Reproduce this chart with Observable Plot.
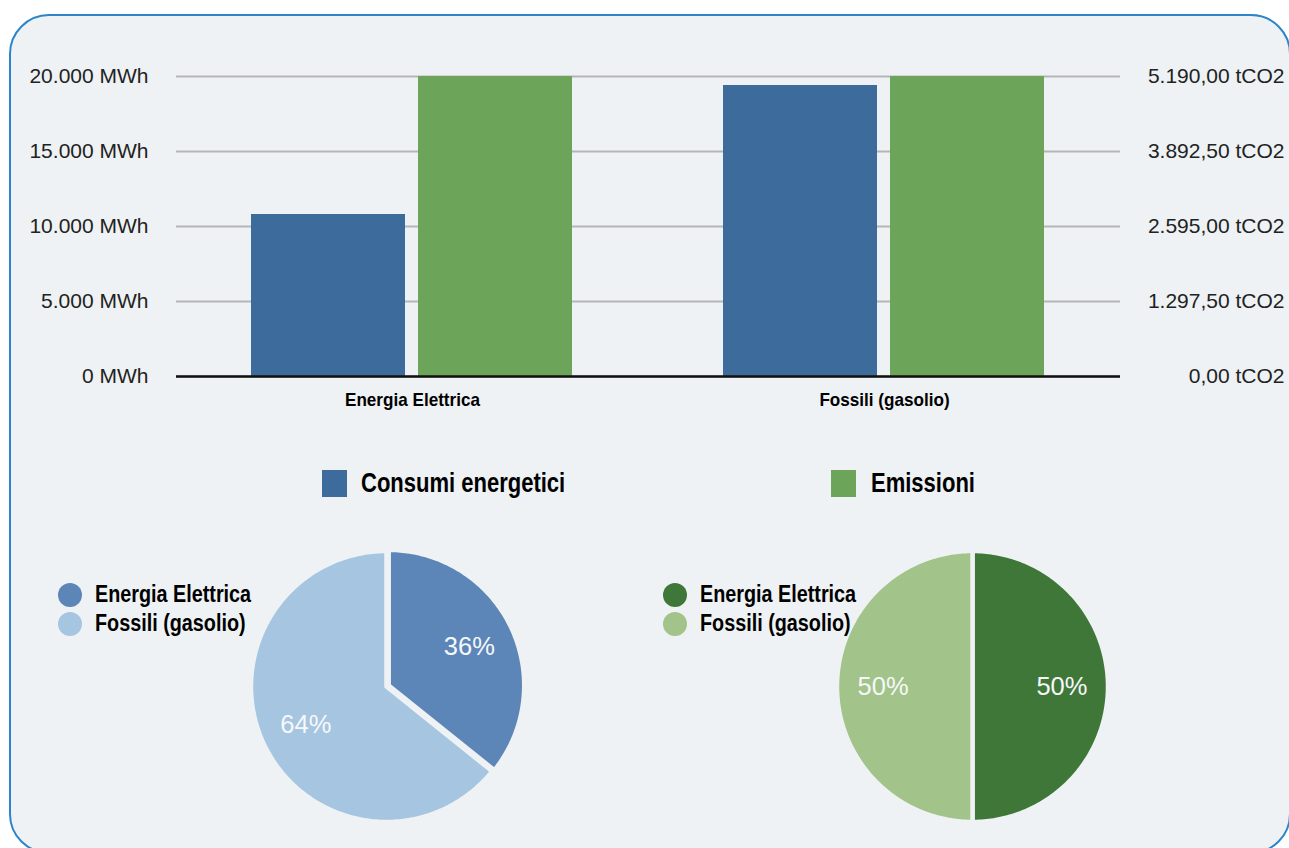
<!DOCTYPE html>
<html>
<head>
<meta charset="utf-8">
<script src="https://cdn.jsdelivr.net/npm/d3@7"></script>
<script src="https://cdn.jsdelivr.net/npm/@observablehq/plot@0.6"></script>
<style>
  html, body { margin: 0; padding: 0; background: #ffffff; width: 1289px; height: 848px; overflow: hidden; }
  #frame { position: absolute; left: 9px; top: 14px; width: 1282px; height: 840px; box-sizing: border-box;
           border: 2px solid #2a86c9; border-radius: 40px; background: #eef2f4; }
  .abs { position: absolute; }
  .bold { font-family: 'Liberation Sans', Arial, sans-serif; font-weight: bold; color: #000; }
  .row { display: flex; align-items: center; white-space: nowrap; }
  .cond { display: inline-block; transform-origin: left center; white-space: nowrap; }
</style>
</head>
<body>
<div id="frame"></div>
<div id="bars" class="abs" style="left:0;top:0;"></div>
<div id="barLegend" class="abs bold" style="left:0;top:470px;"></div>
<div id="pie1" class="abs" style="left:241px;top:541px;"></div>
<div id="pie2" class="abs" style="left:827px;top:541px;"></div>
<div id="leg1" class="abs bold" style="left:58px;top:580px;"></div>
<div id="leg2" class="abs bold" style="left:663px;top:580px;"></div>
<script>
// ---- data ----
const categories = ["Energia Elettrica", "Fossili (gasolio)"];
const series = ["Consumi energetici", "Emissioni"];
const consumiMWh = [10800, 19400];
const emissioniT = [5190, 5190];
const mwhTicks = [0, 5000, 10000, 15000, 20000];
const mwhMax = 20000;
const tco2Max = 5190;
const barColors = ["#3d6b9c", "#6ca559"];
const pieBlue = ["#5d86b8", "#a6c5e1"];
const pieGreen = ["#3f7739", "#a2c389"];

const bg = "#eef2f4";
const sans = "'Liberation Sans', Arial, sans-serif";
const it = d3.formatLocale({decimal: ",", thousands: ".", grouping: [3], currency: ["€", ""]});
const fmtMWh = d => it.format(",.0f")(d) + " MWh";
const fmtT = d => it.format(",.2f")(d * tco2Max / mwhMax) + " tCO2";

// ---- bar chart ----
const table = [];
categories.forEach((c, i) => {
  table.push({category: c, series: series[0], value: consumiMWh[i]});
  table.push({category: c, series: series[1], value: emissioniT[i] * mwhMax / tco2Max});
});

const bars = Plot.plot({
  width: 1289, height: 420,
  marginLeft: 175, marginRight: 169, marginTop: 76, marginBottom: 44,
  style: {background: "transparent", fontFamily: sans, fontSize: "21px", color: "#222"},
  fx: {domain: categories, padding: 0, label: null},
  x: {domain: series, paddingInner: 0.077, paddingOuter: 0.446, axis: null},
  y: {domain: [0, mwhMax], axis: null},
  color: {domain: series, range: barColors},
  marks: [
    Plot.gridY(mwhTicks, {stroke: "#b5b5b5", strokeOpacity: 1, strokeWidth: 2}),
    Plot.barY(table, {fx: "category", x: "series", y: "value", fill: "series"}),
    Plot.ruleY([0], {stroke: "#111", strokeWidth: 2.5}),
    Plot.axisY(mwhTicks, {anchor: "left", tickSize: 0, tickPadding: 28, tickFormat: fmtMWh, label: null}),
    Plot.axisY(mwhTicks, {anchor: "right", tickSize: 0, tickPadding: 164, textAnchor: "end", tickFormat: fmtT, label: null}),
    Plot.axisFx({anchor: "bottom", tickSize: 0, tickPadding: 16, fontWeight: "bold", fontFamily: sans, fontSize: 19, fill: "#000", label: null})
  ]
});
document.getElementById("bars").appendChild(bars);
// condensed look for category labels
bars.querySelectorAll("text").forEach(t => {
  if (categories.includes(t.textContent)) {
    const len = t.getComputedTextLength();
    t.setAttribute("textLength", (len * 0.9).toFixed(1));
    t.setAttribute("lengthAdjust", "spacingAndGlyphs");
  }
});

// bar legend
const bl = document.getElementById("barLegend");
const legPos = [[322, 361], [831, 871]];
series.forEach((s, i) => {
  const sw = document.createElement("div");
  sw.className = "abs";
  sw.style.cssText = `left:${legPos[i][0]}px;top:0;width:25px;height:27px;background:${barColors[i]}`;
  bl.appendChild(sw);
  const t = document.createElement("div");
  t.className = "abs";
  t.style.cssText = `left:${legPos[i][1]}px;top:0;font-size:27px;line-height:27px;white-space:nowrap`;
  t.innerHTML = `<span class="cond" style="transform:scaleX(0.815)">${s}</span>`;
  bl.appendChild(t);
});

// ---- pies ----
function piePlot(values, colors) {
  const arcs = d3.pie().sort(null)(values);
  const total = d3.sum(values);
  const pts = [], labels = [];
  arcs.forEach((a, i) => {
    const m = (a.startAngle + a.endAngle) / 2;
    const ex = i === 0 && values[0] / total < 0.5 ? 0.018 : 0;
    const ox = Math.sin(m) * ex, oy = Math.cos(m) * ex;
    const name = categories[i];
    pts.push({slice: name, x: ox, y: oy});
    const n = Math.max(2, Math.ceil((a.endAngle - a.startAngle) / (Math.PI / 180)));
    for (let k = 0; k <= n; ++k) {
      const t = a.startAngle + (a.endAngle - a.startAngle) * k / n;
      pts.push({slice: name, x: ox + Math.sin(t), y: oy + Math.cos(t)});
    }
    labels.push({slice: name, x: ox + 0.66 * Math.sin(m), y: oy + 0.66 * Math.cos(m),
                 text: d3.format(".0%")(values[i] / total)});
  });
  return Plot.plot({
    width: 290, height: 290, margin: 0,
    style: {background: "transparent", fontFamily: sans},
    x: {domain: [-1.07, 1.07], axis: null},
    y: {domain: [-1.07, 1.07], axis: null},
    color: {domain: categories, range: colors},
    marks: [
      Plot.line(pts, {x: "x", y: "y", z: "slice", fill: "slice", stroke: bg, strokeWidth: 4.5, curve: "linear-closed"}),
      Plot.text(labels, {x: "x", y: "y", text: "text", fill: "#f6f8fa", fontSize: 25.5})
    ]
  });
}
document.getElementById("pie1").appendChild(piePlot(consumiMWh, pieBlue));
document.getElementById("pie2").appendChild(piePlot(emissioniT, pieGreen));

function pieLegend(id, colors) {
  const el = document.getElementById(id);
  categories.forEach((c, i) => {
    const r = document.createElement("div");
    r.className = "row";
    r.style.cssText = "height:29px;font-size:23px;line-height:29px";
    r.innerHTML = `<span style="display:inline-block;width:24px;height:24px;border-radius:50%;background:${colors[i]};margin-right:13px"></span><span class="cond" style="transform:scaleX(0.86)">${c}</span>`;
    el.appendChild(r);
  });
}
pieLegend("leg1", pieBlue);
pieLegend("leg2", pieGreen);
</script>
</body>
</html>
